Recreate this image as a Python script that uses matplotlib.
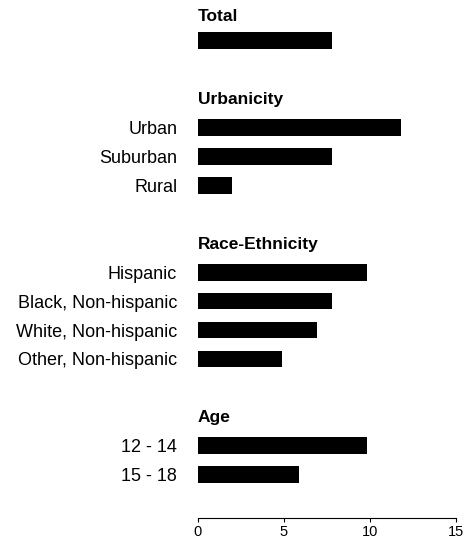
import matplotlib.pyplot as plt

## Data ##
groups = ['Total', 'Urbanicity', 'Race-Ethnicity', 'Age']
group_labels = [
    [''],
    ['Urban', 'Suburban', 'Rural'],
    ['Hispanic', 'Black, Non-hispanic', 'White, Non-hispanic', 'Other, Non-hispanic'],
    ['12 - 14', '15 - 18'],
]
group_values = [
    [7.8],
    [11.8, 7.8, 2.0],
    [9.8, 7.8, 6.9, 4.9],
    [9.8, 5.9],
]
x_ticks = [0, 5, 10, 15]

plt.rcParams['font.family'] = ['Liberation Sans', 'DejaVu Sans']

fig = plt.figure(figsize=(4.65, 5.41), dpi=100)
ax = fig.add_axes([198 / 465, 1 - 518 / 541, 258 / 465, 518 / 541])

## lay out rows: each group gets a header row, bars below, then a gap ##
pos = 0
ypos, labels, values = [], [], []
for g, labs, vals in zip(groups, group_labels, group_values):
    header_y = pos - (0.85 if g == 'Total' else 0.97)
    ax.text(0, header_y, g, ha='left', va='center', fontsize=12.5, fontweight='bold')
    for lab, v in zip(labs, vals):
        ypos.append(pos)
        labels.append(lab)
        values.append(v)
        pos += 1
    pos += 2

ax.barh(ypos, values, height=0.58, color='black')

ax.set_xlim(0, 15)
ax.set_ylim(16.5, -1.41)
ax.set_xticks(x_ticks)
ax.set_yticks(ypos)
ax.set_yticklabels(labels, fontsize=13)
ax.tick_params(axis='y', length=0, pad=15)
ax.tick_params(axis='x', length=3, width=0.8, labelsize=10.5, pad=2)

for side in ['top', 'right', 'left']:
    ax.spines[side].set_visible(False)
ax.spines['bottom'].set_linewidth(0.8)

plt.savefig('out.png', dpi=100)
